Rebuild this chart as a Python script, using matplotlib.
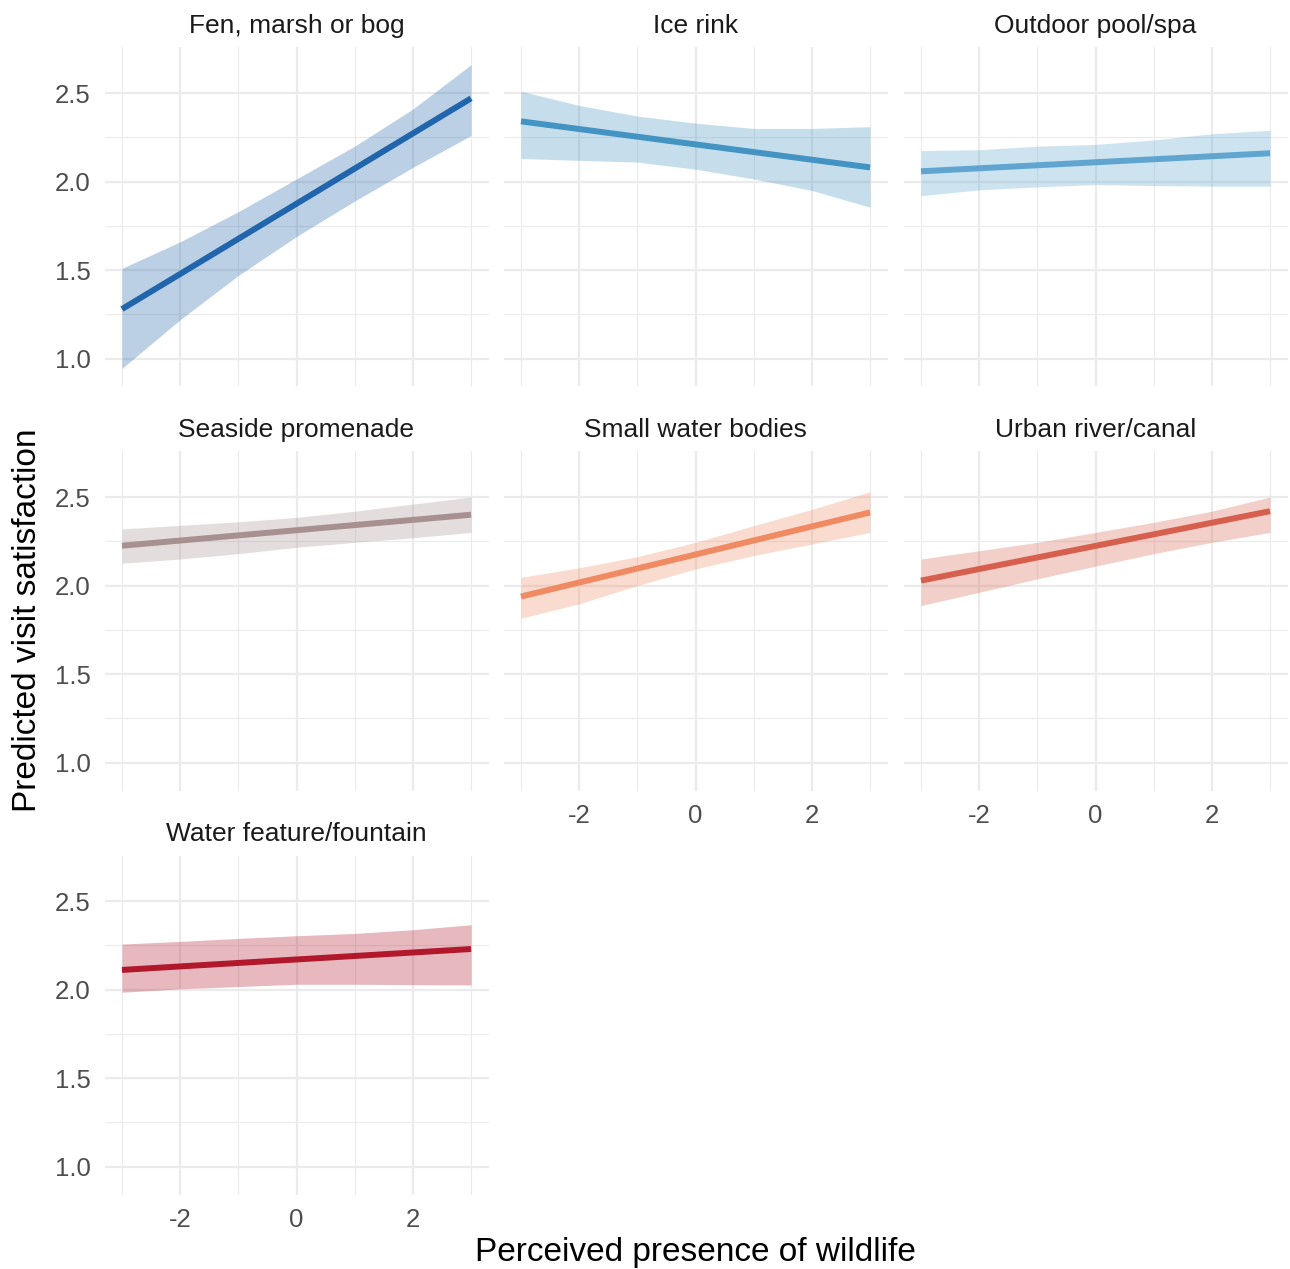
import numpy as np
import matplotlib.pyplot as plt

plt.rcParams['font.family'] = ['Liberation Sans', 'DejaVu Sans']
plt.rcParams['axes.unicode_minus'] = False

# perceived presence of wildlife (x) and predicted satisfaction per habitat
x_vals = [-3, -2, -1, 0, 1, 2, 3]

habitats = ['Fen, marsh or bog', 'Ice rink', 'Outdoor pool/spa',
            'Seaside promenade', 'Small water bodies', 'Urban river/canal',
            'Water feature/fountain']

fit_start = [1.28, 2.34, 2.058, 2.225, 1.938, 2.028, 2.111]
fit_end = [2.47, 2.08, 2.16, 2.40, 2.413, 2.42, 2.229]

upper = [
    [1.51, 1.66, 1.83, 2.015, 2.20, 2.41, 2.66],
    [2.51, 2.43, 2.37, 2.33, 2.30, 2.30, 2.31],
    [2.175, 2.18, 2.20, 2.21, 2.235, 2.27, 2.29],
    [2.32, 2.34, 2.36, 2.385, 2.42, 2.46, 2.50],
    [2.047, 2.10, 2.163, 2.244, 2.338, 2.43, 2.53],
    [2.15, 2.197, 2.244, 2.30, 2.357, 2.42, 2.50],
    [2.257, 2.272, 2.289, 2.304, 2.317, 2.338, 2.366],
]
lower = [
    [0.945, 1.22, 1.47, 1.69, 1.89, 2.08, 2.26],
    [2.13, 2.12, 2.11, 2.07, 2.015, 1.95, 1.855],
    [1.92, 1.953, 1.97, 1.983, 1.977, 1.974, 1.974],
    [2.126, 2.15, 2.18, 2.216, 2.244, 2.27, 2.30],
    [1.816, 1.897, 2.0, 2.094, 2.17, 2.235, 2.30],
    [1.887, 1.962, 2.038, 2.11, 2.18, 2.244, 2.30],
    [1.985, 2.004, 2.017, 2.03, 2.03, 2.028, 2.026],
]

colors = ['#2166ac', '#4393c3', '#5fa5d0', '#a89090', '#ef8a62', '#d6604d', '#b2182b']

W, H = 1290, 1269
fig = plt.figure(figsize=(W / 100, H / 100), dpi=100)

col_left = [104.5, 503.5, 903.5]
panel_w = 384
row_top = [47.5, 451.5, 855.5]
panel_h = 339

grid_col = '#ebebeb'

for i, name in enumerate(habitats):
    r, c = divmod(i, 3)
    ax = fig.add_axes([col_left[c] / W, 1 - (row_top[r] + panel_h) / H,
                       panel_w / W, panel_h / H])
    ax.fill_between(x_vals, lower[i], upper[i], color=colors[i], alpha=0.3,
                    linewidth=0, zorder=2)
    ax.plot([x_vals[0], x_vals[-1]], [fit_start[i], fit_end[i]],
            color=colors[i], linewidth=4.3, solid_capstyle='butt', zorder=3)

    ax.set_xlim(-3.3, 3.3)
    ax.set_ylim(0.843, 2.757)
    ax.set_xticks([-2, 0, 2])
    ax.set_xticks([-3, -1, 1, 3], minor=True)
    ax.set_yticks([1.0, 1.5, 2.0, 2.5])
    ax.set_yticks([1.25, 1.75, 2.25], minor=True)
    ax.grid(True, which='major', color=grid_col, linewidth=1.6, zorder=0)
    ax.grid(True, which='minor', color=grid_col, linewidth=0.8, zorder=0)
    ax.set_axisbelow(True)
    for s in ax.spines.values():
        s.set_visible(False)
    ax.tick_params(which='both', length=0, labelsize=18.5, labelcolor='#4d4d4d',
                   pad=10)
    ax.set_yticklabels(['1.0', '1.5', '2.0', '2.5'])
    ax.set_xticklabels(['-2', '0', '2'])
    if c != 0:
        ax.set_yticklabels([])
    bottom_row = (r == 2) or (r == 1 and c > 0)
    if not bottom_row:
        ax.set_xticklabels([])
    ax.set_title(name, fontsize=19, color='#1a1a1a', pad=10.5)

fig.text(28 / W, 1 - 620 / H, 'Predicted visit satisfaction', rotation=90,
         ha='center', va='center', fontsize=24, color='black')
fig.text(695 / W, 1 - 1252 / H, 'Perceived presence of wildlife',
         ha='center', va='center', fontsize=24, color='black')

fig.savefig('out.png', dpi=100, facecolor='white')
